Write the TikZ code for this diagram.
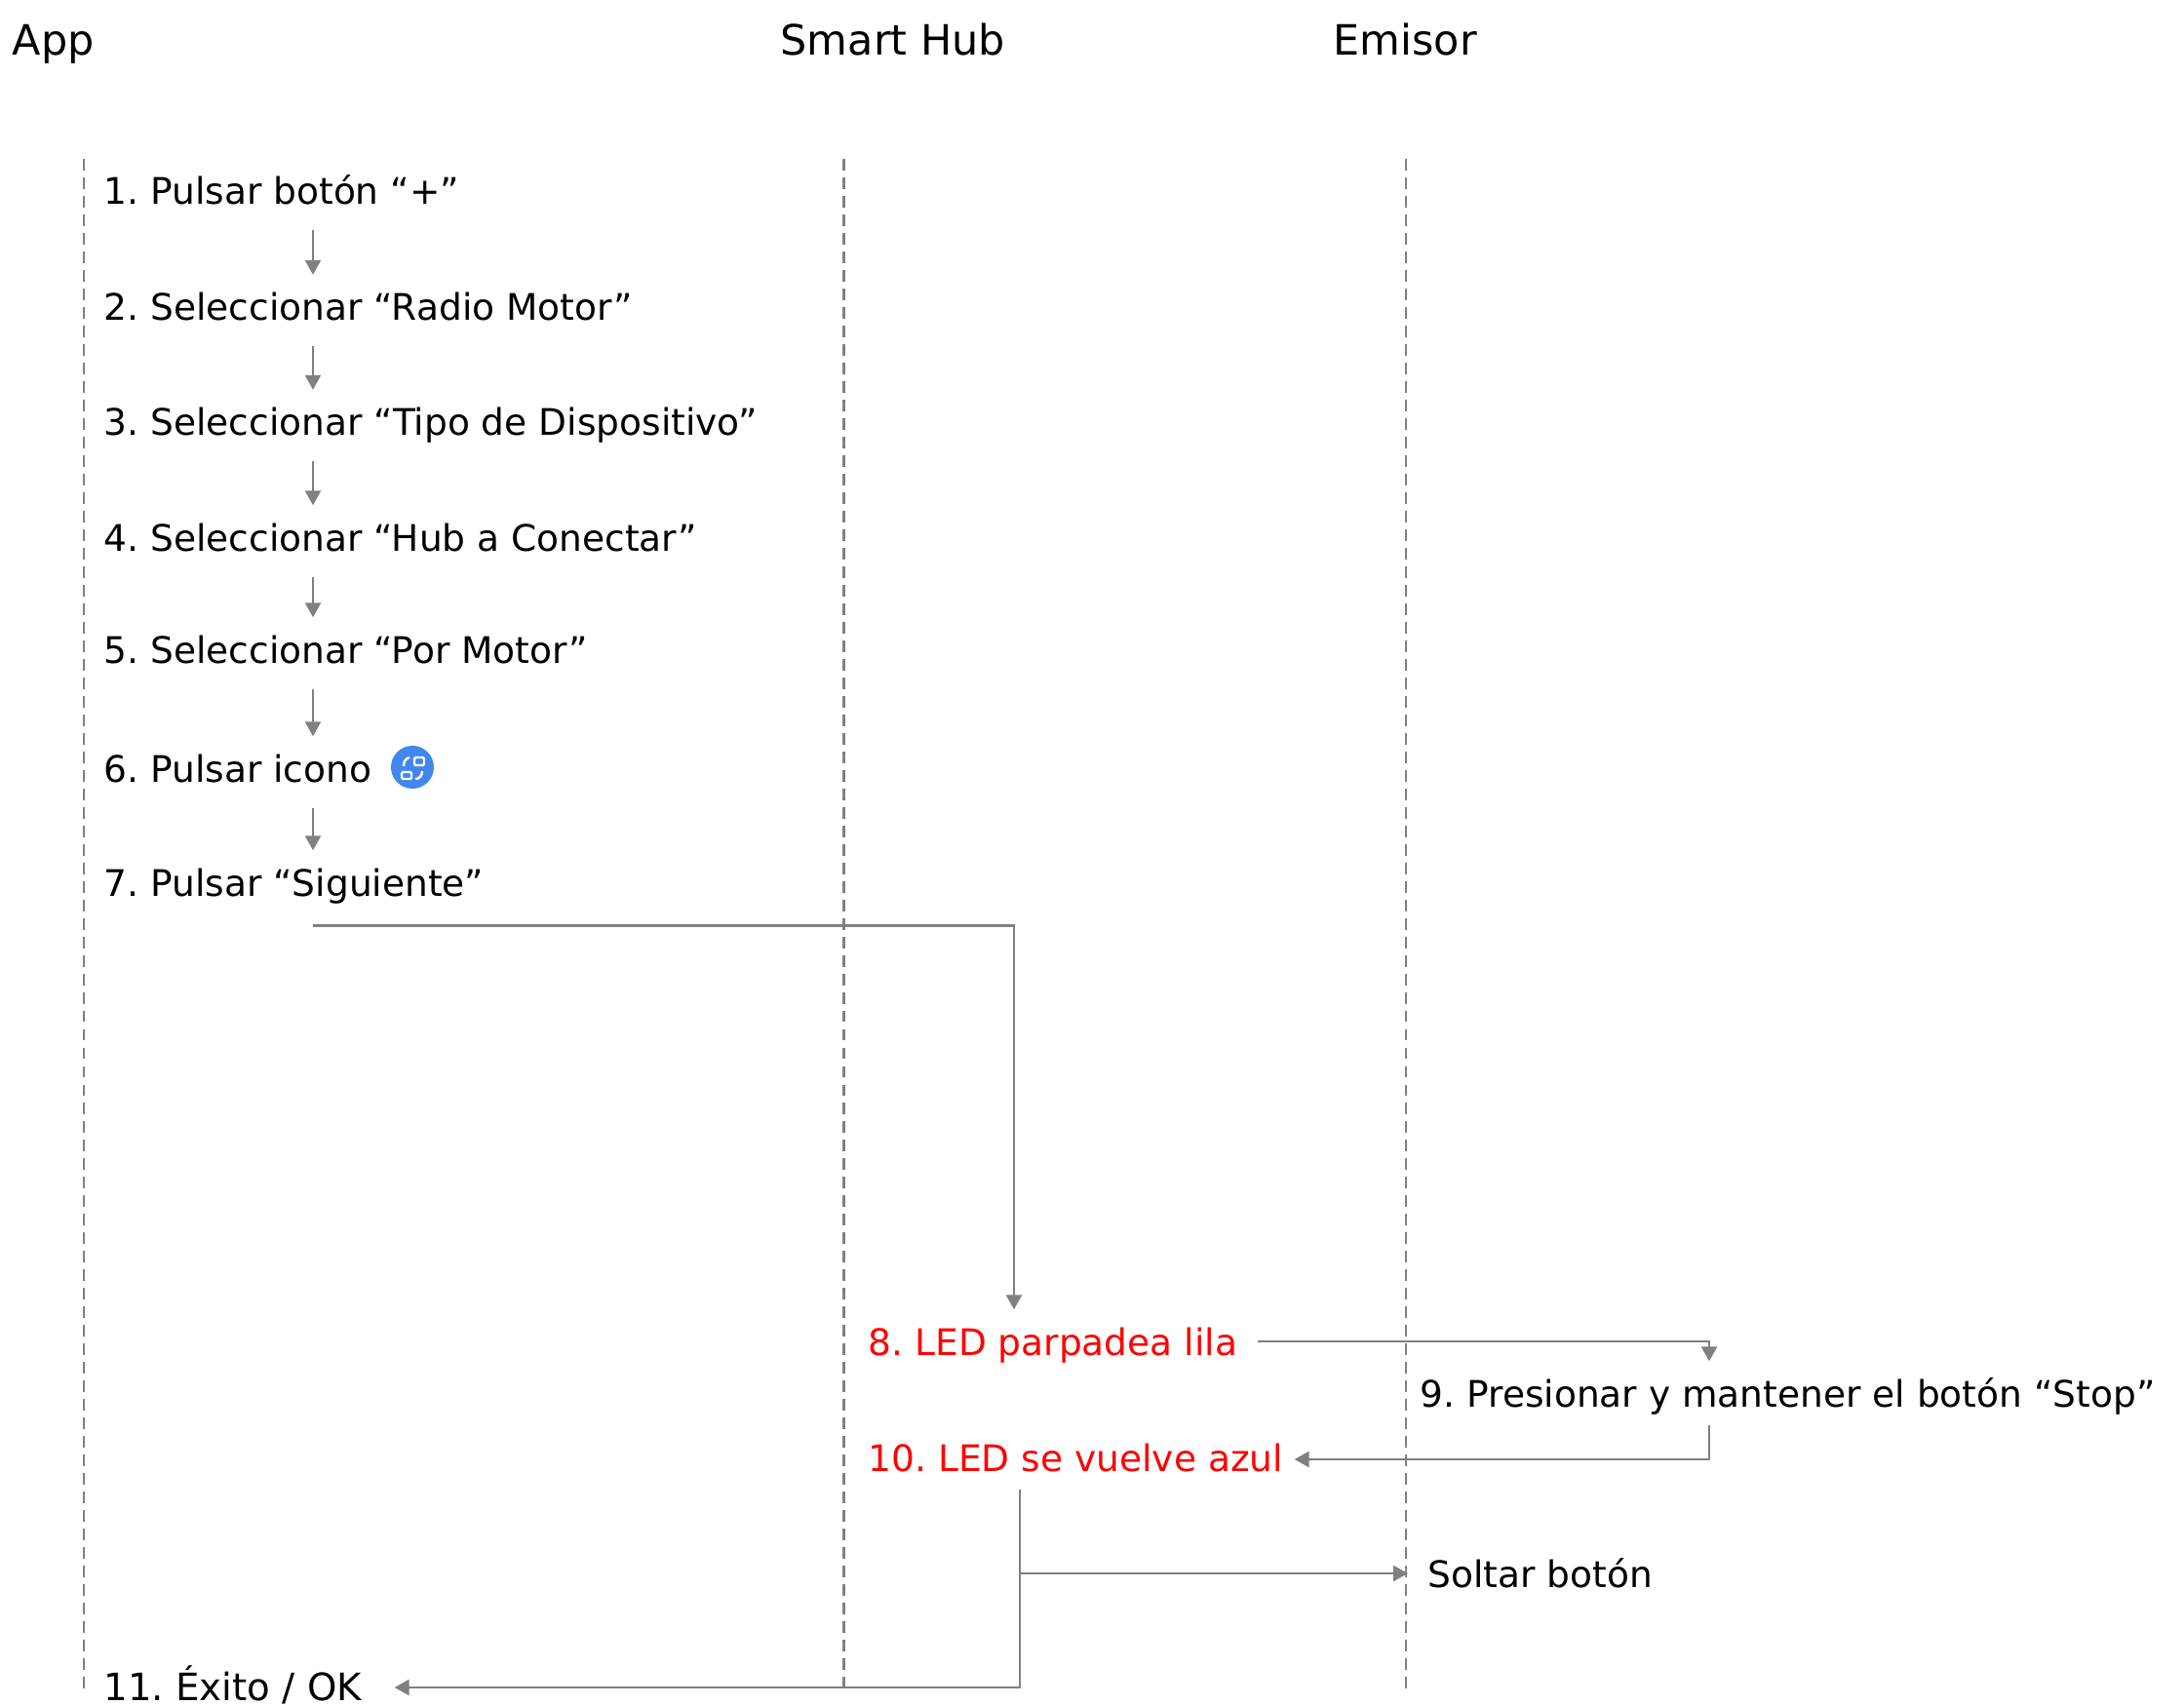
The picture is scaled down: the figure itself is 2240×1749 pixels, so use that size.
\documentclass[tikz,border=0pt]{standalone}
\usepackage{fontspec}
\setmainfont{DejaVu Sans}
\usetikzlibrary{arrows.meta}

\definecolor{linegray}{HTML}{808080}
\definecolor{iconblue}{HTML}{4187EE}
\frenchspacing
\tikzset{
  stepnode/.style={anchor=base west,inner xsep=0.2cm,inner ysep=0pt,text height=0.46cm,text depth=0.26cm,font=\fontsize{10.67pt}{12pt}\selectfont},
  lownode/.style={stepnode,text depth=0.18cm},
  headnode/.style={anchor=base west,inner sep=0pt,font=\fontsize{12.2pt}{14pt}\selectfont},
  lifeline/.style={draw=linegray,line width=0.75pt,dash pattern=on 3.4pt off 2pt},
  flow/.style={draw=linegray,line width=0.75pt,-{Triangle[length=0.15cm,width=0.16cm]}},
}

\begin{document}
\begin{tikzpicture}[x=0.01cm,y=-0.01cm]
  \useasboundingbox (0,0) rectangle (2240,1749);
  % headers
  \node (app) [headnode] at (12,57) {App};
  \node (hub) [headnode] at (800,57) {Smart Hub};
  \node (emisor) [headnode] at (1367,57) {Emisor};
  % lifelines
  \draw[lifeline] (86,163) coordinate (appTop) -- (86,1735) coordinate (appEnd);
  \draw[lifeline] (865.5,163) coordinate (hubTop) -- (865.5,1735) coordinate (hubEnd);
  \draw[lifeline] (1442,163) coordinate (emisorTop) -- (1442,1735) coordinate (emisorEnd);
  % columns the connectors run on
  \coordinate (col) at (321,0);
  \coordinate (col8) at (1040,0);
  \coordinate (col9) at (1753,0);
  \coordinate (col10) at (1046,0);
  % steps
  \node (s1) [stepnode] at (86,209.5) {1. Pulsar botón “+”};
  \node (s2) [stepnode] at (86,328.5) {2. Seleccionar “Radio Motor”};
  \node (s3) [stepnode] at (86,446.5) {3. Seleccionar “Tipo de Dispositivo”};
  \node (s4) [stepnode] at (86,565) {4. Seleccionar “Hub a Conectar”};
  \node (s5) [stepnode] at (86,680) {5. Seleccionar “Por Motor”};
  \node (s6) [stepnode] at (86,802) {6. Pulsar icono};
  \node (s7) [stepnode,text depth=0.295cm] at (86,919) {7. Pulsar “Siguiente”};
  \node (s8) [lownode,text=red] at (870,1390) {8. LED parpadea lila};
  \node (s9) [lownode] at (1436,1443) {9. Presionar y mantener el botón “Stop”};
  \node (s10) [lownode,text=red,inner xsep=0.11cm,text height=0.42cm,text depth=0.18cm] at (879,1509) {10. LED se vuelve azul};
  \node (s11) [lownode,inner xsep=0.33cm,text depth=0.2cm,font=\fontsize{11pt}{12pt}\selectfont] at (73,1744) {11. Éxito / OK};
  \node (s12) [lownode] at (1444,1628) {Soltar botón};
  % icon
  \node (icon) [circle,fill=iconblue,inner sep=0pt,minimum size=0.44cm] at (423,787) {};
  \draw[white,line width=0.7pt,rounded corners=0.4pt] (425,777) rectangle (435,785);
  \draw[white,line width=0.7pt,rounded corners=0.4pt] (412,792) rectangle (422,799);
  \draw[white,line width=0.7pt] (414,786) .. controls (414,781) and (416,778) .. (420,777);
  \draw[white,line width=0.7pt] (426,799) .. controls (430,799) and (433,796) .. (433,791);
  % arrows
  \foreach \a/\b in {s1/s2,s2/s3,s3/s4,s4/s5,s5/s6,s6/s7}
    \draw[flow] (\a.south -| col) -- (\b.north -| col);
  \draw[flow] (s7.south -| col) -| (s8.north -| col8);
  \draw[flow] (s8.east) -| (s9.north -| col9);
  \draw[flow] (s9.south -| col9) |- (s10.east);
  \draw[flow] (s10.south -| col10) |- (s12.west);
  \draw[flow] (s10.south -| col10) |- (s11.east);
\end{tikzpicture}
\end{document}
